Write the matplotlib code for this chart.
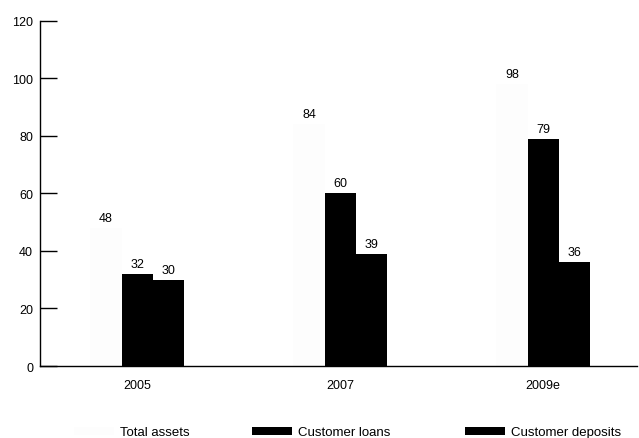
import matplotlib
matplotlib.use("Agg")
import matplotlib.pyplot as plt
import numpy as np

plt.rcParams['font.family'] = ['Liberation Sans', 'DejaVu Sans']

years = ["2005", "2007", "2009e"]
total_assets = [48, 84, 98]
customer_loans = [32, 60, 79]
customer_deposits = [30, 39, 36]
y_ticks = [0, 20, 40, 60, 80, 100, 120]

fig = plt.figure(figsize=(6.39, 4.39), dpi=100)
ax = fig.add_axes([0.0626, 0.164, 0.9344, 0.786])

x = np.arange(len(years))
w = 0.153
series = [
    ("Total assets", total_assets, -w, "#fdfdfd"),
    ("Customer loans", customer_loans, 0.0, "black"),
    ("Customer deposits", customer_deposits, w, "black"),
]
handles = []
for name, vals, off, col in series:
    bars = ax.bar(x + off, vals, width=w, color=col, label=name, linewidth=0)
    handles.append(bars)
    for b, v in zip(bars, vals):
        ax.annotate(f"{v}", (b.get_x() + b.get_width() / 2, v),
                    xytext=(0, 3), textcoords="offset points",
                    ha="center", va="bottom", fontsize=9)

ax.set_xlim(-0.478, 2.463)
ax.set_ylim(0, 120)
ax.set_yticks(y_ticks)
ax.set_xticks(x)
ax.set_xticklabels(years)
ax.tick_params(axis="y", direction="in", length=12, width=1, labelsize=9, pad=5)
ax.tick_params(axis="x", length=0, labelsize=9, pad=9)
for s in ("top", "right"):
    ax.spines[s].set_visible(False)
for s in ("left", "bottom"):
    ax.spines[s].set_linewidth(1)

# one legend entry per series, laid out along the bottom edge
legend_x = [74 / 639, 252 / 639, 465 / 639]
for h, (name, _, _, _), lx in zip(handles, series, legend_x):
    fig.legend([h], [name], loc="center left", bbox_to_anchor=(lx, 0.013),
               frameon=False, fontsize=9.5, handlelength=3.0, handleheight=0.55,
               handletextpad=0.45, borderpad=0, borderaxespad=0)

fig.savefig("out.png", dpi=100)
